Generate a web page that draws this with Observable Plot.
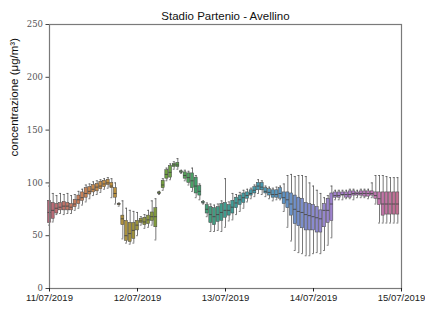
<!DOCTYPE html>
<html>
<head>
<meta charset="utf-8">
<script src="https://cdn.jsdelivr.net/npm/d3@7"></script>
<script src="https://cdn.jsdelivr.net/npm/@observablehq/plot@0.6"></script>
<style>
  html, body { margin: 0; padding: 0; background: #fff; }
  #chart { width: 425px; height: 311px; }
</style>
</head>
<body>
<div id="chart"></div>
<script>
// Hour offsets from 11/07/2019 00:00
const hours = [0,1,2,3,4,5,6,7,8,9,10,11,12,13,14,15,16,17,18,19,20,21,22,23,24,25,26,27,28,29,
  30,31,32,33,34,35,36,37,38,39,40,41,42,43,44,45,46,47,48,49,50,51,52,53,54,55,56,57,58,59,
  60,61,62,63,64,65,66,67,68,69,70,71,72,73,74,75,76,77,78,79,80,81,82,83,84,85,86,87,88,89,
  90,91,92,93,94,95];
const whiskerLow = [60,63,70,71,70,71,71,74,76,79,82,85,88,89,91,94,95,86,80,78,47,43,42,43,50,60,57,58,60,46,
  89,93,102,103,113,113,109,102,98,92,86,84,80,68,54,54,55,54,58,64,65,70,73,76,82,85,87,90,89,87,
  85,83,84,84,73,58,45,36,34,33,31,31,33,34,33,36,41,48,84,84,84,85,85,84,86,86,86,85,86,80,
  62,62,62,62,62,62];
const q1 = [62,66,71,74,74,74,74,77,80,83,86,89,91,92,94,96,98,95,86,79,60,45,44,47,55,62,60,61,64,58,
  90,95,104,105,115,115,110,104,100,95,90,88,81,71,62,60,63,64,67,69,71,76,79,81,85,88,90,93,93,90,
  88,86,86,85,80,76,69,61,59,57,55,55,55,53,53,58,62,64,86,86,88,86,86,88,88,88,87,87,88,85,
  79,69,70,70,70,70];
const median = [72,74,76,77,78,78,77,80,84,86,90,92,94,96,97,99,100,97,90,80,66,50,52,55,60,64,63,65,68,68,
  90,98,108,110,117,117,110,107,105,102,97,92,81,75,70,68,70,72,74,74,77,81,84,86,88,90,93,97,96,92,
  91,89,89,90,86,84,80,75,73,72,70,69,68,67,66,74,74,80,88,88,89,89,89,90,90,90,90,90,90,88,
  85,80,80,80,80,80];
const q3 = [83,81,80,81,82,81,80,84,88,91,95,96,98,99,101,102,103,100,95,80,69,64,62,62,64,66,67,69,72,76,
  91,102,112,116,118,119,111,110,109,109,105,97,82,79,77,76,77,80,81,79,83,86,88,90,91,93,96,100,100,95,
  94,93,93,95,91,91,90,88,86,85,81,80,79,77,74,80,85,90,91,91,91,91,92,92,91,92,92,92,92,91,
  91,91,91,91,91,91];
const whiskerHigh = [97,90,88,90,89,90,88,89,92,94,98,99,101,102,103,104,105,104,100,81,83,76,74,73,72,68,70,74,83,85,
  92,104,114,118,120,123,112,112,111,114,107,99,83,81,80,79,80,83,104,82,90,89,91,93,94,95,98,103,102,97,
  96,95,96,97,99,107,108,106,107,107,106,100,97,93,90,86,88,97,93,93,93,93,94,94,93,94,94,94,100,107,
  107,107,106,105,105,105];

const dayTicks = [0, 24, 48, 72, 96];
const dayLabels = ["11/07/2019", "12/07/2019", "13/07/2019", "14/07/2019", "15/07/2019"];
const yTicks = [0, 50, 100, 150, 200, 250];
const title = "Stadio Partenio - Avellino";
const yLabel = "concentrazione (μg/m³)";

const rows = hours.map((h, i) => ({
  h, lo: whiskerLow[i], q1: q1[i], med: median[i], q3: q3[i], hi: whiskerHigh[i]
}));

const W = 425, H = 311;
const mL = 49, mR = 24, mT = 24, mB = 23;
const step = (W - mL - mR) / 96;

const edge = "#3d3d3d";
const whisk = "#555555";

// hue cycle resembling a desaturated husl palette
const paletteAnchors = ["#b9677a", "#c97f5a", "#c4903e", "#9a923c", "#6fa23e", "#43a06a",
  "#3f9c8f", "#449aaa", "#5d94c6", "#8a8ad0", "#a97fcc", "#c077b6", "#c46f8e"];
const hueRamp = d3.piecewise(d3.interpolateLab, paletteAnchors);

const chart = Plot.plot({
  width: W,
  height: H,
  marginLeft: mL,
  marginRight: mR,
  marginTop: mT,
  marginBottom: mB,
  style: { background: "#fff", overflow: "visible" },
  x: {
    type: "band",
    domain: d3.range(97),
    range: [mL - step / 2, W - mR + step / 2],
    paddingInner: 0.18,
    paddingOuter: 0.09,
    axis: null
  },
  y: { domain: [0, 250], axis: null },
  color: {
    type: "linear",
    domain: [0, 96],
    interpolate: hueRamp
  },
  marks: [
    Plot.ruleX(rows, { x: "h", y1: "lo", y2: "q1", stroke: whisk, strokeWidth: 0.8 }),
    Plot.ruleX(rows, { x: "h", y1: "q3", y2: "hi", stroke: whisk, strokeWidth: 0.8 }),
    Plot.tickY(rows, { x: "h", y: "lo", stroke: whisk, strokeWidth: 0.8, insetLeft: 0.6, insetRight: 0.6 }),
    Plot.tickY(rows, { x: "h", y: "hi", stroke: whisk, strokeWidth: 0.8, insetLeft: 0.6, insetRight: 0.6 }),
    Plot.barY(rows, { x: "h", y1: "q1", y2: "q3", fill: "h", stroke: edge, strokeWidth: 0.5 }),
    Plot.tickY(rows, { x: "h", y: "med", stroke: edge, strokeWidth: 0.8 }),
    Plot.frame({ stroke: "#7a7a7a", strokeWidth: 1.2 }),
    Plot.axisY({
      ticks: yTicks, tickSize: 3.5, tickPadding: 3,
      fontFamily: "DejaVu Serif", fontSize: 8.5, color: "#555", label: null,
      stroke: "#444"
    }),
    Plot.axisX({
      ticks: dayTicks, tickSize: 3.5, tickPadding: 2,
      tickFormat: d => dayLabels[dayTicks.indexOf(d)],
      fontFamily: "Liberation Sans", fontSize: 9.5, color: "#222", label: null
    }),
    Plot.text([title], {
      frameAnchor: "top", lineAnchor: "bottom", dy: -5,
      fontFamily: "Liberation Sans", fontSize: 11.5, fill: "#111"
    }),
    Plot.text([yLabel], {
      frameAnchor: "left", dx: -35, rotate: -90,
      fontFamily: "Liberation Sans", fontSize: 11.5, fill: "#111"
    })
  ]
});

document.getElementById("chart").appendChild(chart);
</script>
</body>
</html>
